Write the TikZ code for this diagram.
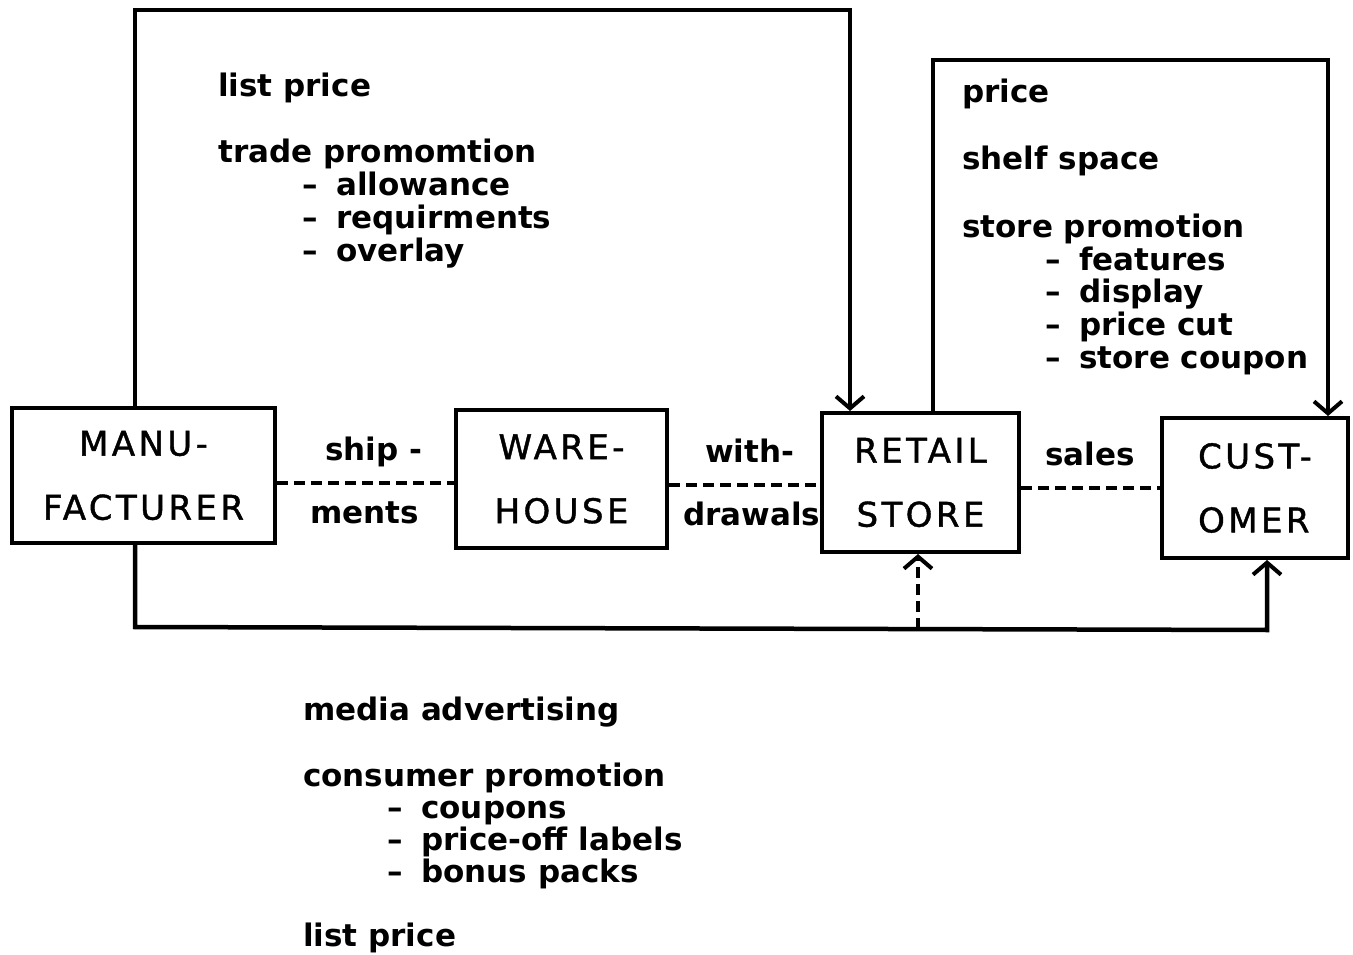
\documentclass[tikz,border=0pt]{standalone}
\usepackage{fontspec}
\setmainfont{DejaVu Sans}
\newfontfamily\boxfont[LetterSpace=10,FakeBold=1.2]{DejaVu Sans}
\newcommand\dashitem{–\hspace{0.6em}}
\usetikzlibrary{arrows.meta}
\begin{document}
\begin{tikzpicture}[x=1pt,y=-1pt,
  box/.style={draw,line width=4pt,inner sep=0pt,align=center,font=\boxfont\fontsize{34}{64}\selectfont},
  conn/.style={line width=4.5pt},
  tip/.style={-{Straight Barb[length=12pt,width=28pt,line width=4pt]}},
  dsh/.style={line width=3.5pt,dash pattern=on 11pt off 6pt},
  lab/.style={anchor=base west,inner sep=0pt,font=\fontsize{31}{33}\selectfont\bfseries},
  blab/.style={anchor=base west,inner sep=0pt,font=\fontsize{31}{33}\selectfont\bfseries}]
\useasboundingbox (0,0) rectangle (1353,955);
% boxes
\node[box,minimum width=263pt,minimum height=135pt] (manu) at (143.5,475.5) {MANU-\\FACTURER};
\node[box,minimum width=211pt,minimum height=138pt] (ware) at (561.5,479) {WARE-\\HOUSE};
\node[box,minimum width=197pt,minimum height=139pt] (retail) at (920.5,482.5) {RETAIL\\STORE};
\node[box,minimum width=186pt,minimum height=140pt,align=left] (cust) at (1255,488) {CUST-\\OMER};
% coordinates
\coordinate (t1) at (135,10);
\coordinate (t2) at (850,10);
\coordinate (r1) at (933,60);
\coordinate (r2) at (1328,60);
\coordinate (b1) at (135,627);
\coordinate (b2) at (1267,630);
\coordinate (b3) at (918,629);
% connectors
\draw[conn,tip] (manu.north -| t1) -- (t1) -- (t2) -- (retail.north -| t2);
\draw[conn,tip] (retail.north -| r1) -- (r1) -- (r2) -- (cust.north -| r2);
\draw[conn,tip] (manu.south -| b1) -- (b1) -- (b2) -- (cust.south -| b2);
\draw[dsh,-{Straight Barb[length=12pt,width=28pt,line width=4pt]}] (b3) -- (retail.south -| b3);
\draw[dsh] (manu.east |- 0,483) -- (ware.west |- 0,483);
\draw[dsh] (ware.east |- 0,485) -- (retail.west |- 0,485);
\draw[dsh] (retail.east |- 0,488) -- (cust.west |- 0,488);
% labels on flows
\node[lab] (l1) at (325,460) {ship -};
\node[lab] (l2) at (310,523) {ments};
\node[lab] (l3) at (705,462) {with-};
\node[lab] (l4) at (683,525) {drawals};
\node[lab] (l5) at (1045,465) {sales};
% manufacturer -> retail text
\node[lab] (m1) at (218,97) {list price};
\node[lab] (m2) at (218,163) {trade promomtion};
\node[lab] (m3) at (302,196) {\dashitem allowance};
\node[lab] (m4) at (302,229) {\dashitem requirments};
\node[lab] (m5) at (302,261) {\dashitem overlay};
% retail -> customer text
\node[lab] (s1) at (962,103) {price};
\node[lab] (s2) at (962,170) {shelf space};
\node[lab] (s3) at (962,237) {store promotion};
\node[lab] (s4) at (1045,270) {\dashitem features};
\node[lab] (s5) at (1045,302) {\dashitem display};
\node[lab] (s6) at (1045,335) {\dashitem price cut};
\node[lab] (s7) at (1045,368) {\dashitem store coupon};
% bottom text
\node[blab] (c1) at (303,720) {media advertising};
\node[blab] (c2) at (303,786) {consumer promotion};
\node[blab] (c3) at (387,818) {\dashitem coupons};
\node[blab] (c4) at (387,850) {\dashitem price-off labels};
\node[blab] (c5) at (387,882) {\dashitem bonus packs};
\node[blab] (c6) at (303,946) {list price};
\end{tikzpicture}
\end{document}
